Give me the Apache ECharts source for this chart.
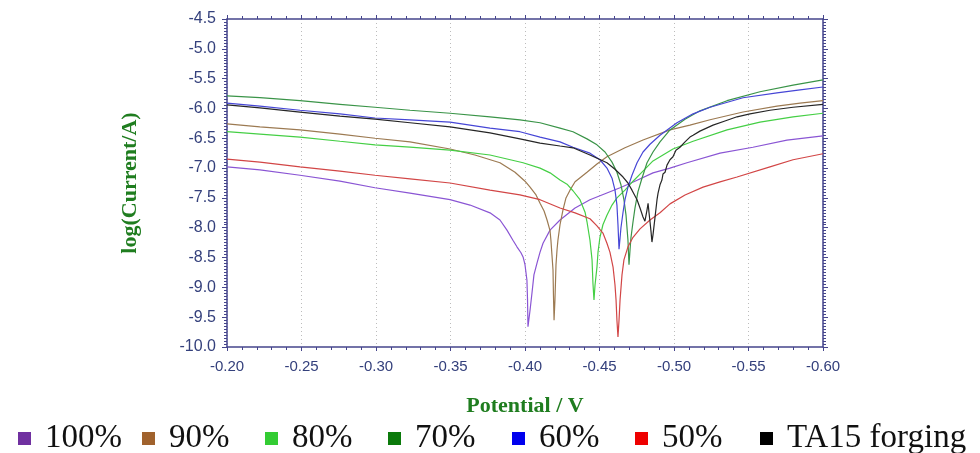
<!DOCTYPE html>
<html>
<head>
<meta charset="utf-8">
<script src="https://cdn.jsdelivr.net/npm/echarts@6/dist/echarts.min.js"></script>
<style>
  html, body { margin: 0; padding: 0; background: #ffffff; }
  #chart { width: 980px; height: 453px; }
</style>
</head>
<body>
<div id="chart"></div>
<script>
// Potentiodynamic polarization curves: [potential (V), log(current / A)]
const seriesNames = ['100%', '90%', '80%', '70%', '60%', '50%', 'TA15 forging'];

const curve100 = [
  [-0.2000,-6.98],[-0.2221,-7.03],[-0.2490,-7.12],[-0.2758,-7.22],[-0.2993,-7.33],[-0.3228,-7.42],
  [-0.3497,-7.53],[-0.3631,-7.62],[-0.3765,-7.75],[-0.3832,-7.87],[-0.3879,-8.04],[-0.3919,-8.21],
  [-0.3946,-8.32],[-0.3973,-8.42],[-0.3987,-8.49],[-0.4000,-8.62],[-0.4013,-8.88],[-0.4017,-9.21],
  [-0.4020,-9.66],[-0.4034,-9.38],[-0.4047,-9.09],[-0.4060,-8.79],[-0.4081,-8.59],[-0.4101,-8.41],
  [-0.4121,-8.26],[-0.4168,-8.04],[-0.4235,-7.87],[-0.4336,-7.67],[-0.4436,-7.53],[-0.4537,-7.43],
  [-0.4638,-7.33],[-0.4738,-7.22],[-0.4859,-7.08],[-0.4973,-7.00],[-0.5087,-6.91],[-0.5309,-6.75],
  [-0.5530,-6.65],[-0.5758,-6.53],[-0.6000,-6.46]
];

const curve90 = [
  [-0.2000,-6.26],[-0.2221,-6.31],[-0.2490,-6.36],[-0.2758,-6.43],[-0.2993,-6.50],[-0.3228,-6.56],
  [-0.3497,-6.68],[-0.3664,-6.78],[-0.3832,-6.91],[-0.3933,-7.07],[-0.4000,-7.22],[-0.4034,-7.32],
  [-0.4074,-7.45],[-0.4101,-7.59],[-0.4128,-7.72],[-0.4148,-7.87],[-0.4168,-8.05],[-0.4174,-8.21],
  [-0.4181,-8.46],[-0.4188,-8.71],[-0.4191,-9.13],[-0.4195,-9.55],[-0.4201,-9.21],[-0.4205,-8.88],
  [-0.4208,-8.62],[-0.4215,-8.37],[-0.4221,-8.21],[-0.4235,-7.95],[-0.4255,-7.70],[-0.4275,-7.50],
  [-0.4302,-7.37],[-0.4336,-7.23],[-0.4416,-7.07],[-0.4483,-6.93],[-0.4550,-6.81],[-0.4671,-6.66],
  [-0.4792,-6.53],[-0.4973,-6.36],[-0.5107,-6.28],[-0.5242,-6.19],[-0.5463,-6.06],[-0.5691,-5.96],
  [-0.5846,-5.91],[-0.6000,-5.87]
];

const curve80 = [
  [-0.2000,-6.39],[-0.2221,-6.43],[-0.2490,-6.48],[-0.2758,-6.55],[-0.2993,-6.61],[-0.3228,-6.65],
  [-0.3497,-6.70],[-0.3765,-6.78],[-0.3987,-6.91],[-0.4101,-7.00],[-0.4168,-7.08],[-0.4235,-7.20],
  [-0.4282,-7.27],[-0.4322,-7.38],[-0.4369,-7.53],[-0.4403,-7.74],[-0.4416,-7.90],[-0.4436,-8.21],
  [-0.4450,-8.54],[-0.4456,-8.93],[-0.4463,-9.21],[-0.4470,-8.96],[-0.4483,-8.66],[-0.4490,-8.41],
  [-0.4503,-8.16],[-0.4523,-7.95],[-0.4550,-7.79],[-0.4584,-7.62],[-0.4617,-7.50],[-0.4671,-7.37],
  [-0.4725,-7.22],[-0.4772,-7.10],[-0.4859,-6.88],[-0.4993,-6.68],[-0.5128,-6.55],[-0.5356,-6.36],
  [-0.5577,-6.23],[-0.5799,-6.14],[-0.6000,-6.08]
];

const curve70 = [
  [-0.2000,-5.79],[-0.2221,-5.82],[-0.2490,-5.87],[-0.2758,-5.93],[-0.2993,-5.98],[-0.3228,-6.03],
  [-0.3497,-6.08],[-0.3765,-6.14],[-0.3966,-6.19],[-0.4101,-6.24],[-0.4235,-6.33],[-0.4322,-6.39],
  [-0.4416,-6.51],[-0.4483,-6.61],[-0.4537,-6.73],[-0.4584,-6.90],[-0.4617,-7.07],[-0.4644,-7.28],
  [-0.4664,-7.53],[-0.4678,-7.79],[-0.4691,-8.21],[-0.4698,-8.62],[-0.4705,-8.37],[-0.4711,-8.17],
  [-0.4725,-7.90],[-0.4738,-7.67],[-0.4758,-7.40],[-0.4785,-7.17],[-0.4819,-6.91],[-0.4859,-6.73],
  [-0.4906,-6.56],[-0.4973,-6.36],[-0.5074,-6.18],[-0.5174,-6.04],[-0.5356,-5.87],[-0.5577,-5.72],
  [-0.5799,-5.61],[-0.6000,-5.52]
];

const curve60 = [
  [-0.2000,-5.91],[-0.2221,-5.96],[-0.2490,-6.03],[-0.2758,-6.09],[-0.2993,-6.16],[-0.3228,-6.19],
  [-0.3497,-6.23],[-0.3765,-6.33],[-0.3966,-6.39],[-0.4101,-6.48],[-0.4235,-6.56],[-0.4322,-6.65],
  [-0.4436,-6.75],[-0.4503,-6.86],[-0.4550,-7.00],[-0.4584,-7.17],[-0.4604,-7.37],[-0.4617,-7.62],
  [-0.4624,-7.95],[-0.4631,-8.36],[-0.4638,-8.17],[-0.4644,-8.00],[-0.4658,-7.74],[-0.4671,-7.53],
  [-0.4691,-7.32],[-0.4718,-7.12],[-0.4752,-6.91],[-0.4792,-6.73],[-0.4839,-6.60],[-0.4906,-6.45],
  [-0.5020,-6.24],[-0.5128,-6.09],[-0.5242,-5.98],[-0.5463,-5.82],[-0.5691,-5.74],[-0.5846,-5.69],
  [-0.6000,-5.64]
];

const curve50 = [
  [-0.2000,-6.85],[-0.2221,-6.90],[-0.2490,-6.98],[-0.2758,-7.05],[-0.2993,-7.12],[-0.3228,-7.18],
  [-0.3497,-7.25],[-0.3765,-7.37],[-0.3966,-7.45],[-0.4101,-7.53],[-0.4235,-7.67],[-0.4336,-7.75],
  [-0.4436,-7.85],[-0.4483,-7.97],[-0.4523,-8.09],[-0.4550,-8.26],[-0.4570,-8.41],[-0.4591,-8.66],
  [-0.4604,-8.96],[-0.4611,-9.21],[-0.4617,-9.55],[-0.4624,-9.83],[-0.4631,-9.55],[-0.4638,-9.21],
  [-0.4651,-8.79],[-0.4664,-8.54],[-0.4691,-8.32],[-0.4725,-8.16],[-0.4772,-8.02],[-0.4839,-7.87],
  [-0.4906,-7.75],[-0.4973,-7.60],[-0.5074,-7.45],[-0.5195,-7.32],[-0.5309,-7.23],[-0.5423,-7.15],
  [-0.5644,-6.98],[-0.5799,-6.86],[-0.6000,-6.76]
];

const curveTA15 = [
  [-0.2000,-5.94],[-0.2221,-5.99],[-0.2490,-6.06],[-0.2758,-6.13],[-0.2993,-6.18],[-0.3228,-6.24],
  [-0.3497,-6.31],[-0.3765,-6.41],[-0.3966,-6.51],[-0.4101,-6.58],[-0.4235,-6.63],[-0.4322,-6.66],
  [-0.4436,-6.78],[-0.4550,-6.91],[-0.4604,-7.02],[-0.4658,-7.15],[-0.4691,-7.25],[-0.4718,-7.37],
  [-0.4752,-7.53],[-0.4772,-7.67],[-0.4792,-7.82],[-0.4805,-7.89],[-0.4819,-7.70],[-0.4826,-7.59],
  [-0.4832,-7.74],[-0.4839,-7.90],[-0.4846,-8.07],[-0.4852,-8.24],[-0.4859,-8.12],[-0.4872,-7.84],
  [-0.4886,-7.53],[-0.4893,-7.42],[-0.4906,-7.28],[-0.4919,-7.20],[-0.4926,-7.10],[-0.4940,-7.07],
  [-0.4953,-6.95],[-0.4973,-6.86],[-0.4993,-6.81],[-0.5013,-6.70],[-0.5040,-6.65],[-0.5074,-6.56],
  [-0.5107,-6.48],[-0.5128,-6.45],[-0.5174,-6.38],[-0.5262,-6.28],[-0.5342,-6.21],[-0.5423,-6.14],
  [-0.5510,-6.09],[-0.5644,-6.03],[-0.5799,-5.98],[-0.6000,-5.93]
];

const curves = [curve100, curve90, curve80, curve70, curve60, curve50, curveTA15];

// Axis ranges and tick steps
const potentialRange = [-0.6, -0.2];
const potentialStep = 0.05;
const currentRange = [-10.0, -4.5];
const currentStep = 0.5;

// Styling
const lineColors   = ['#8a55d4', '#9c7a52', '#45cf45', '#3a9448', '#4646d6', '#d24646', '#262626'];
const legendColors = ['#7030a0', '#a0622d', '#33cc33', '#0b7a0b', '#0000ee', '#ee0000', '#000000'];
const legendLeft   = [13, 137, 260, 383, 507, 630, 755];
const axisColor  = '#45458c';
const labelColor = '#34407c';
const titleColor = '#1f7d1f';

const chart = echarts.init(document.getElementById('chart'), null, { renderer: 'canvas' });

function potentialAxis(position, main) {
  return {
    type: 'value',
    position: position,
    min: potentialRange[0],
    max: potentialRange[1],
    interval: potentialStep,
    inverse: true,
    axisLine: { show: true, onZero: false, lineStyle: { color: axisColor, width: 1.5 } },
    axisTick: { show: true, length: 4, lineStyle: { color: axisColor, width: 1 } },
    minorTick: { show: true, splitNumber: 5, length: 3, lineStyle: { color: axisColor, width: 1 } },
    axisLabel: {
      show: main,
      color: labelColor,
      fontSize: 15,
      fontFamily: 'Liberation Sans, Arial, sans-serif',
      margin: 12,
      formatter: v => v.toFixed(2)
    },
    splitLine: { show: main, lineStyle: { color: '#bcbcbc', width: 1, type: [1, 3] } },
    minorSplitLine: { show: false },
    name: main ? 'Potential / V' : '',
    nameLocation: 'middle',
    nameGap: 48,
    nameTextStyle: {
      color: titleColor, fontSize: 22, fontWeight: 'bold',
      fontFamily: 'Liberation Serif, Times New Roman, serif'
    }
  };
}

function currentAxis(position, main) {
  return {
    type: 'value',
    position: position,
    min: currentRange[0],
    max: currentRange[1],
    interval: currentStep,
    axisLine: { show: true, onZero: false, lineStyle: { color: axisColor, width: 1.5 } },
    axisTick: { show: true, length: 5, lineStyle: { color: axisColor, width: 1 } },
    minorTick: { show: true, splitNumber: 10, length: 3, lineStyle: { color: axisColor, width: 1 } },
    axisLabel: {
      show: main,
      color: labelColor,
      fontSize: 16,
      fontFamily: 'Liberation Sans, Arial, sans-serif',
      margin: 11,
      formatter: v => v.toFixed(1)
    },
    splitLine: { show: false },
    name: main ? 'log(Current/A)' : '',
    nameLocation: 'middle',
    nameGap: 86,
    nameTextStyle: {
      color: titleColor, fontSize: 22, fontWeight: 'bold',
      fontFamily: 'Liberation Serif, Times New Roman, serif'
    }
  };
}

const option = {
  animation: false,
  backgroundColor: '#ffffff',
  grid: { left: 227, right: 157, top: 19, bottom: 106, containLabel: false },
  xAxis: [potentialAxis('bottom', true), potentialAxis('top', false)],
  yAxis: [currentAxis('left', true), currentAxis('right', false)],
  legend: seriesNames.map((name, i) => ({
    show: true,
    left: legendLeft[i],
    top: 417,
    orient: 'horizontal',
    selectedMode: false,
    icon: 'rect',
    itemWidth: 13,
    itemHeight: 13,
    data: [{ name: name, itemStyle: { color: legendColors[i], borderWidth: 0 } }],
    textStyle: {
      color: '#111111',
      fontSize: 33,
      fontFamily: 'Liberation Serif, Times New Roman, serif',
      padding: [0, 0, 7, 9]
    }
  })),
  series: seriesNames.map((name, i) => ({
    name: name,
    type: 'line',
    xAxisIndex: 0,
    yAxisIndex: 0,
    data: curves[i],
    showSymbol: false,
    symbol: 'none',
    smooth: false,
    color: lineColors[i],
    lineStyle: { color: lineColors[i], width: 1.2 },
    emphasis: { disabled: true }
  }))
};

chart.setOption(option);
</script>
</body>
</html>
